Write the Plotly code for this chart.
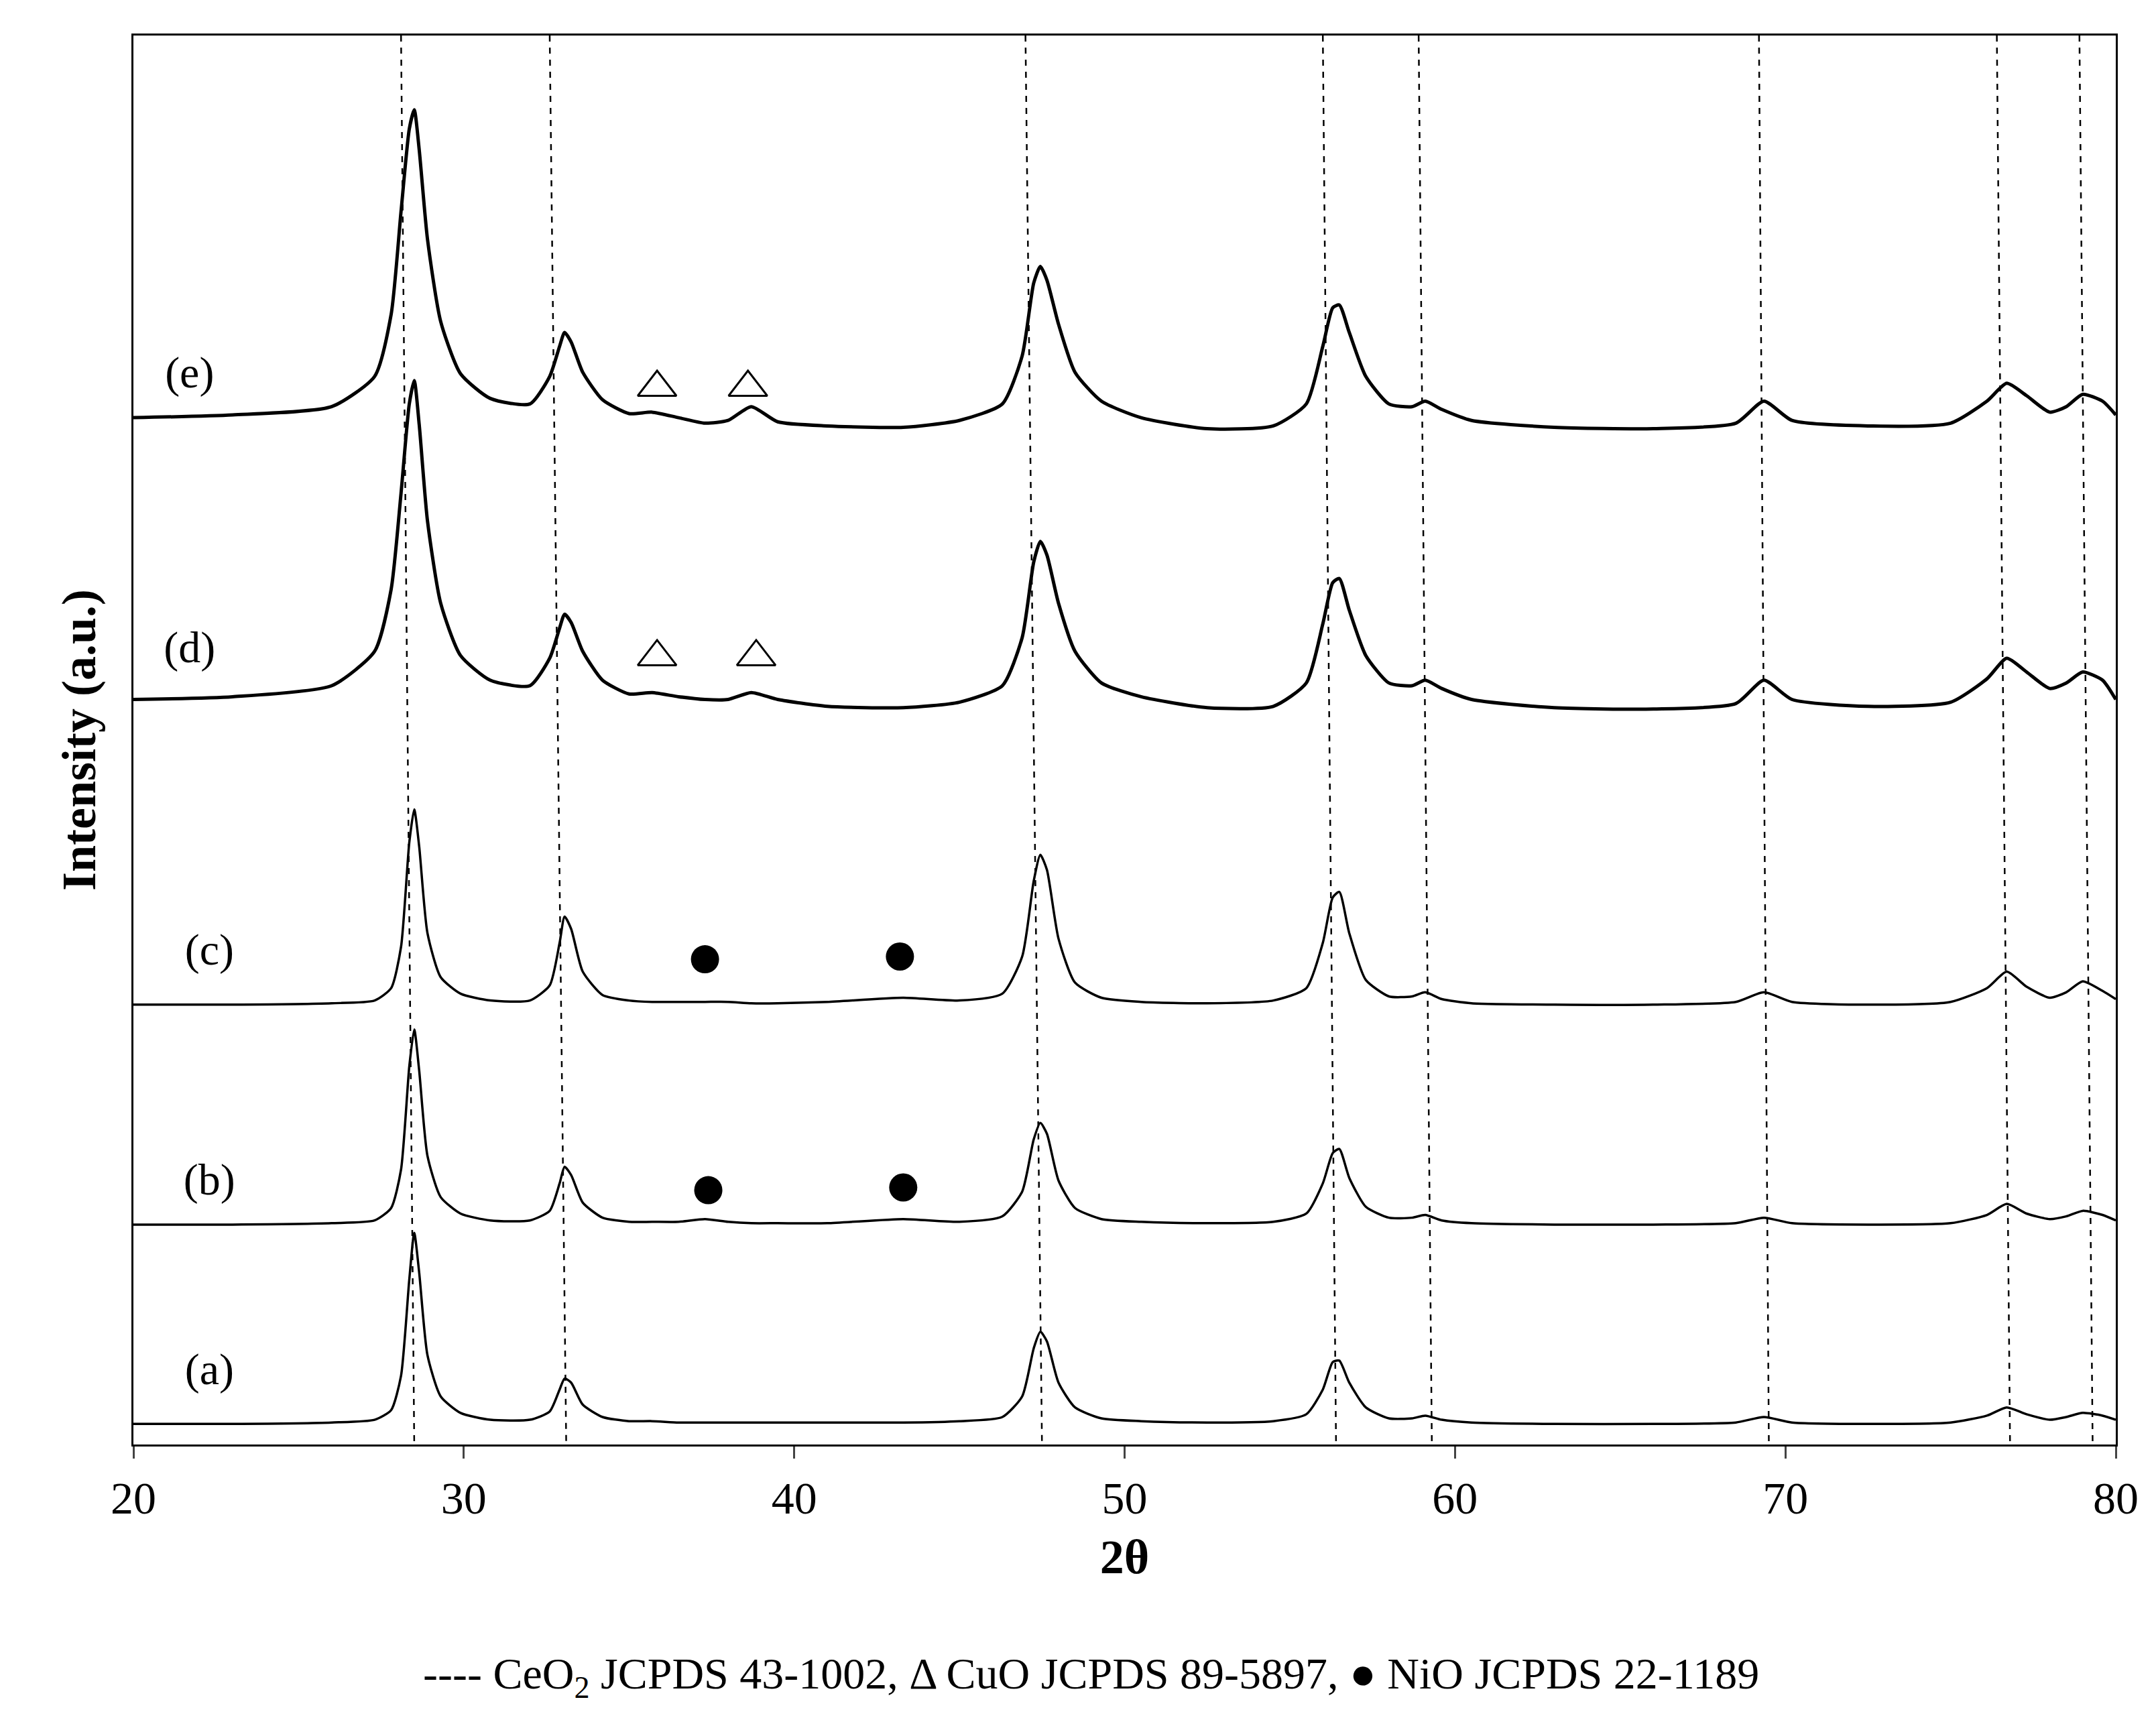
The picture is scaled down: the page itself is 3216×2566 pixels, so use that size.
import plotly.graph_objects as go

two_theta = [20,23,26,27.3,27.8,28.1,28.35,28.5,28.65,28.9,29.3,29.9,30.8,32.0,32.6,32.9,33.05,33.25,33.6,34.2,
             35.0,35.7,36.5,37.3,38.0,38.7,39.5,41,43.3,45,46.3,46.9,47.25,47.45,47.65,48.0,48.5,49.3,50.5,52.5,
             54.5,55.5,56.0,56.3,56.5,56.8,57.3,58.0,58.7,59.1,59.6,60.5,63,66,68.5,69.35,70.2,72.5,75,76.1,
             76.7,77.3,78.0,78.5,79.0,79.6,80]

offsets = {"a": 15, "b": 160, "c": 320, "d": 542, "e": 747}

int_a = [0,0,1,3,10,35,105,139,110,50,20,8,3,3,9,25,33,30,14,5,
         2,2,1,1,1,1,1,1,1,2,5,20,55,67,60,30,12,4,2,1,
         2,7,25,45,46,30,12,4,4,6,3,1,0,0,1,5,1,0,1,6,
         12,7,3,5,8,6,3]
int_b = [0,0,1,3,12,40,115,142,112,50,20,8,3,3,10,30,42,36,16,5,
         2,2,2,4,2,1,1,1,4,2,6,24,62,74,66,32,12,4,2,1,
         2,8,30,52,55,34,13,5,5,7,3,1,0,0,1,5,1,0,1,7,
         15,8,4,6,10,7,3]
int_c = [0,0,1,3,12,42,118,142,115,52,20,8,3,3,14,45,64,55,24,7,
         3,2,2,2,2,1,1,2,5,3,8,35,90,109,98,48,16,5,2,1,
         3,12,45,78,82,52,18,6,6,9,4,1,0,0,2,9,2,0,2,12,
         24,13,5,9,17,10,4]
int_d = [0,2,10,35,80,150,215,232,200,130,70,32,14,10,30,52,62,56,35,14,
         4,5,2,0,0,5,0,-5,-6,-2,10,45,100,115,105,70,35,12,2,-6,
         -5,12,55,85,88,65,32,12,10,14,8,0,-6,-7,-3,14,0,-5,-2,15,
         30,20,8,12,20,14,0]
int_e = [0,2,8,30,75,150,210,224,195,130,70,32,14,10,30,52,62,55,33,13,
         3,4,0,-4,-2,8,-3,-6,-7,-2,10,45,98,110,100,68,33,12,0,-8,
         -6,10,52,80,82,62,30,10,8,12,6,-2,-7,-8,-4,12,-2,-6,-4,12,
         25,16,4,8,17,12,2]

ceo2_top = [28.1, 32.6, 47.0, 56.0, 58.9, 69.2, 76.4, 78.9]
ceo2_bottom = [28.5, 33.1, 47.5, 56.4, 59.3, 69.5, 76.8, 79.3]

labels = ["(a)", "(b)", "(c)", "(d)", "(e)"]
label_x = [22.3, 22.3, 22.3, 21.7, 21.7]
label_y = [52, 190, 357, 577, 777]

cuo_x = [35.85, 38.6, 35.85, 38.85]
cuo_y = [769, 769, 573, 573]
nio_x = [37.3, 43.2, 37.4, 43.3]
nio_y = [353, 355, 185, 187]

fig = go.Figure()
for tx, bx in zip(ceo2_top, ceo2_bottom):
    fig.add_trace(go.Scatter(x=[tx, bx], y=[1025, 0], mode="lines",
                             line=dict(color="black", width=2.5, dash="dash"), showlegend=False))

series = [("a", int_a, 3.5), ("b", int_b, 3.5), ("c", int_c, 3.5), ("d", int_d, 5), ("e", int_e, 5)]
for key, vals, w in series:
    fig.add_trace(go.Scatter(x=two_theta, y=[offsets[key] + v for v in vals], mode="lines",
                             line=dict(color="black", width=w, shape="spline", smoothing=0.6),
                             showlegend=False))

fig.add_trace(go.Scatter(x=cuo_x, y=cuo_y, mode="markers",
                         marker=dict(symbol="triangle-up-open", size=50, color="black", line=dict(width=3)),
                         showlegend=False))
fig.add_trace(go.Scatter(x=nio_x, y=nio_y, mode="markers",
                         marker=dict(symbol="circle", size=42, color="black"), showlegend=False))
fig.add_trace(go.Scatter(x=label_x, y=label_y, mode="text", text=labels,
                         textfont=dict(family="Liberation Serif", size=66, color="black"), showlegend=False))

fig.update_layout(
    width=3216, height=2566, plot_bgcolor="white", paper_bgcolor="white",
    margin=dict(l=191, r=68, t=45, b=419),
    font=dict(family="Liberation Serif", color="black"),
    xaxis=dict(range=[20, 80], tickvals=[20, 30, 40, 50, 60, 70, 80], ticks="outside", ticklen=18,
               tickwidth=3, tickfont=dict(size=68), showline=True, linecolor="black", linewidth=3,
               mirror=True, showgrid=False, zeroline=False,
               title=dict(text="<b>2θ</b>", font=dict(size=72), standoff=25)),
    yaxis=dict(range=[0, 1025], showticklabels=False, ticks="", showline=True, linecolor="black",
               linewidth=3, mirror=True, showgrid=False, zeroline=False,
               title=dict(text="<b>Intensity (a.u.)</b>", font=dict(size=72), standoff=30)),
    annotations=[dict(text="---- CeO<sub>2</sub> JCPDS 43-1002, Δ CuO JCPDS 89-5897, ● NiO JCPDS 22-1189",
                      xref="paper", yref="paper", x=0.483, y=-0.165, xanchor="center", yanchor="middle",
                      showarrow=False, font=dict(size=66, family="Liberation Serif"))],
)
fig.write_html("out.html")
